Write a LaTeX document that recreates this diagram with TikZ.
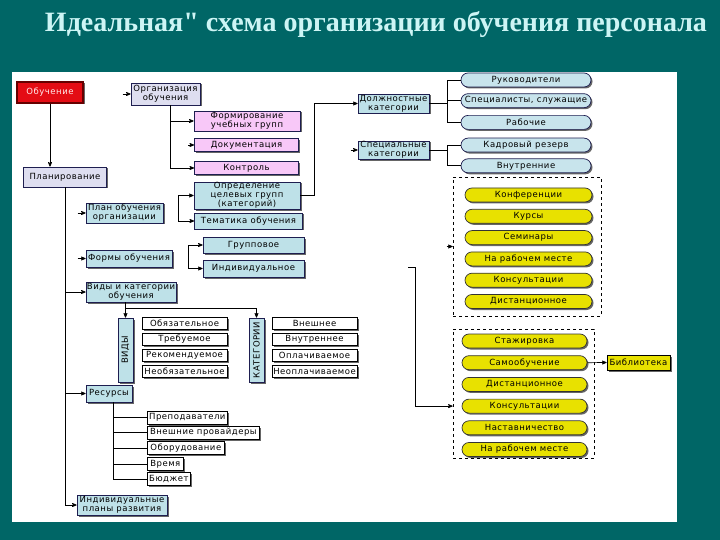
\documentclass[tikz,border=0pt]{standalone}
\usepackage{fontspec}
\setmainfont{DejaVu Sans}[LetterSpace=6]
\newfontfamily\titlefont{Liberation Serif}
\usetikzlibrary{arrows,positioning,shadows}

\definecolor{bgteal}{RGB}{0,102,102}
\definecolor{titlecyan}{RGB}{205,245,245}
\definecolor{boxblue}{RGB}{190,225,232}
\definecolor{ovalblue}{RGB}{200,228,236}
\definecolor{boxpink}{RGB}{248,200,248}
\definecolor{boxlav}{RGB}{222,222,240}
\definecolor{boxred}{RGB}{228,12,20}
\definecolor{boxyellow}{RGB}{232,225,0}
\definecolor{edgenavy}{RGB}{30,30,80}

\begin{document}
\begin{tikzpicture}[x=1pt,y=-1pt,>=stealth',line width=0.7pt,
    font=\fontsize{8.5}{9}\selectfont,
    wh/.style 2 args={minimum width=#1,minimum height=#2},
    box/.style={draw=edgenavy,line width=0.7pt,align=center,inner sep=0.5pt,
      drop shadow={shadow xshift=1.5pt,shadow yshift=-1.5pt,fill=black,opacity=0.6}},
    bluebox/.style={box,fill=boxblue},
    pinkbox/.style={box,fill=boxpink},
    lavbox/.style={box,fill=boxlav},
    redbox/.style={box,fill=boxred,draw=black!60!red,line width=1.2pt,text=red!8},
    ybox/.style={box,fill=boxyellow,draw=black},
    wbox/.style={box,fill=white,draw=black,wh={85}{12}},
    rbox/.style={box,fill=white,draw=black,anchor=west},
    oval/.style={box,fill=ovalblue,rounded corners=7pt,wh={130}{14}},
    yoval/.style={box,fill=boxyellow,draw=black!80,rounded corners=7pt,wh={127}{14}},
    dashbox/.style={draw=black,dashed,line width=0.6pt}]

  % background and panel
  \fill[bgteal] (0,0) rectangle (720,540);
  \fill[white] (12,72) rectangle (677,522);
  \useasboundingbox (0,0) rectangle (720,540);

  \node[text=titlecyan,font=\titlefont\bfseries\fontsize{28}{30}\selectfont] (title) at (376,25)
    {Идеальная" схема организации обучения персонала};

  % main branch
  \node[redbox,wh={66}{21}] (obuch) at (50,92.5) {Обучение};
  \node[lavbox,wh={83}{20}] (plan) at (65,177) {Планирование};
  \node[lavbox,wh={69}{22}] (org) at (165.5,94) {Организация\\обучения};

  \node[pinkbox,wh={106}{20}] (form) at (247,121) {Формирование\\учебных групп};
  \node[pinkbox,wh={104}{13}] (doc) at (246.5,145) {Документация};
  \node[pinkbox,wh={104}{13}] (ctrl) at (246.5,168) {Контроль};
  \node[bluebox,wh={106}{27}] (opr) at (247,195.5) {Определение\\целевых групп\\(категорий)};
  \node[bluebox,wh={108}{16}] (tema) at (248.5,221) {Тематика обучения};

  \node[bluebox,wh={71}{19}] (dolzh) at (393.5,103.5) {Должностные\\категории};
  \node[bluebox,wh={71}{18}] (spec) at (393.5,150) {Специальные\\категории};

  \node[oval] (ruk) at (526,80) {Руководители};
  \node[oval,below=6pt of ruk] (sluzh) {Специалисты, служащие};
  \node[oval,below=7pt of sluzh] (rab) {Рабочие};
  \node[oval,below=8pt of rab] (kadr) {Кадровый резерв};
  \node[oval,below=6pt of kadr] (vnutr) {Внутренние};

  % forms of training
  \node[dashbox,wh={148}{139}] (grp1) at (527,246.5) {};
  \node[yoval] (konf) at (528.5,195) {Конференции};
  \node[yoval,below=6.6pt of konf] (kursy) {Курсы};
  \node[yoval,below=6.6pt of kursy] (sem) {Семинары};
  \node[yoval,below=6.6pt of sem] (narab) {На рабочем месте};
  \node[yoval,below=6.6pt of narab] (kons) {Консультации};
  \node[yoval,below=6.6pt of kons] (dist) {Дистанционное};

  \node[dashbox,wh={141}{129}] (grp2) at (523.5,393.5) {};
  \node[yoval,wh={125}{14}] (staz) at (524.5,341) {Стажировка};
  \node[yoval,wh={125}{14},below=7pt of staz] (samo) {Самообучение};
  \node[yoval,wh={125}{14},below=7pt of samo] (distb) {Дистанционное};
  \node[yoval,wh={125}{14},below=7pt of distb] (konsb) {Консультации};
  \node[yoval,wh={125}{14},below=7pt of konsb] (nast) {Наставничество};
  \node[yoval,wh={125}{14},below=7pt of nast] (narabb) {На рабочем месте};
  \node[ybox,wh={63}{15}] (bibl) at (638.5,362.5) {Библиотека};

  % planning column
  \node[bluebox,wh={77}{20}] (planorg) at (124.5,213) {План обучения\\организации};
  \node[bluebox,wh={86}{17}] (formy) at (129,258.5) {Формы обучения};
  \node[bluebox,wh={90}{20}] (vidy) at (131,292) {Виды и категории\\обучения};
  \node[bluebox,wh={101}{16}] (gruppa) at (253.5,245) {Групповое};
  \node[bluebox,wh={101}{17}] (indiv) at (253.5,268.5) {Индивидуальное};

  \node[bluebox,wh={15}{64}] (vert1) at (125.5,350) {\rotatebox{90}{ВИДЫ}};
  \node[bluebox,wh={15}{64}] (vert2) at (256.5,350) {\rotatebox{90}{КАТЕГОРИИ}};

  \node[wbox] (obyaz) at (184.5,323) {Обязательное};
  \node[wbox,below=3.3pt of obyaz] (treb) {Требуемое};
  \node[wbox,below=3.3pt of treb] (rekom) {Рекомендуемое};
  \node[wbox,below=3.3pt of rekom] (neob) {Необязательное};
  \node[wbox] (vnesh) at (314.5,323) {Внешнее};
  \node[wbox,below=3.3pt of vnesh] (vnutrl) {Внутреннее};
  \node[wbox,below=3.3pt of vnutrl] (oplach) {Оплачиваемое};
  \node[wbox,below=3.3pt of oplach] (neopl) {Неоплачиваемое};

  \node[bluebox,wh={46}{17}] (res) at (109,393.5) {Ресурсы};
  \node[rbox,wh={80}{13}] (prep) at (147,417.5) {Преподаватели};
  \node[rbox,wh={112}{13}] (vprov) at (147,432.5) {Внешние провайдеры};
  \node[rbox,wh={77}{13}] (obor) at (147,448) {Оборудование};
  \node[rbox,wh={36}{13}] (vrem) at (147,464) {Время};
  \node[rbox,wh={43}{13}] (budg) at (147,479) {Бюджет};
  \node[bluebox,wh={90}{20}] (ipr) at (122,505) {Индивидуальные\\планы развития};

  \coordinate (gapstart) at (408,267);

  % connectors
  \draw[->] (obuch.south) -- (obuch.south |- plan.north);
  \draw[->] ([xshift=-8pt]org.west) -- (org.west);
  \draw[->] ([xshift=5pt]org.south) |- (form.west);
  \draw[->] ([xshift=5pt]org.south) |- (ctrl.west);
  \draw[->] ([xshift=-6pt]doc.west) -- (doc.west);
  \draw[<->] (opr.west) -- ++(-15,0) |- (tema.west);
  \draw[->] (opr.east) -- ++(14,0) |- (dolzh.west);
  \draw[->] ([xshift=-7pt]spec.west) -- (spec.west);

  \draw (dolzh.east) -- ++(18,0) |- (ruk.west);
  \draw (dolzh.east) -- ++(18,0) |- (sluzh.west);
  \draw (dolzh.east) -- ++(18,0) |- (rab.west);
  \draw (spec.east) -- ++(18,0) |- (kadr.west);
  \draw (spec.east) -- ++(18,0) |- (vnutr.west);

  \draw[->] ([xshift=-6pt]grp1.west) -- (grp1.west);
  \draw[->] (gapstart) -- ++(7,0) |- (grp2.west |- konsb);
  \draw[->] (samo.east) -- (bibl.west);

  \draw[->] (plan.south) |- (vidy.west);
  \draw[->] (plan.south) |- (res.west);
  \draw[->] (plan.south) |- (ipr.west);
  \draw[->] ([xshift=-8pt]planorg.west) -- (planorg.west);
  \draw[->] ([xshift=-8pt]formy.west) -- (formy.west);
  \draw[<->] (gruppa.west) -- ++(-14,0) |- (indiv.west);

  \draw[->] (vert1.north |- vidy.south) -- (vert1.north);
  \draw[->] (vert1.north |- vidy.south) -- ++(0,6) -| (vert2.north);

  \draw ([xshift=4pt]res.south) |- (prep.west);
  \draw ([xshift=4pt]res.south) |- (vprov.west);
  \draw ([xshift=4pt]res.south) |- (obor.west);
  \draw ([xshift=4pt]res.south) |- (vrem.west);
  \draw ([xshift=4pt]res.south) |- (budg.west);
\end{tikzpicture}
\end{document}
